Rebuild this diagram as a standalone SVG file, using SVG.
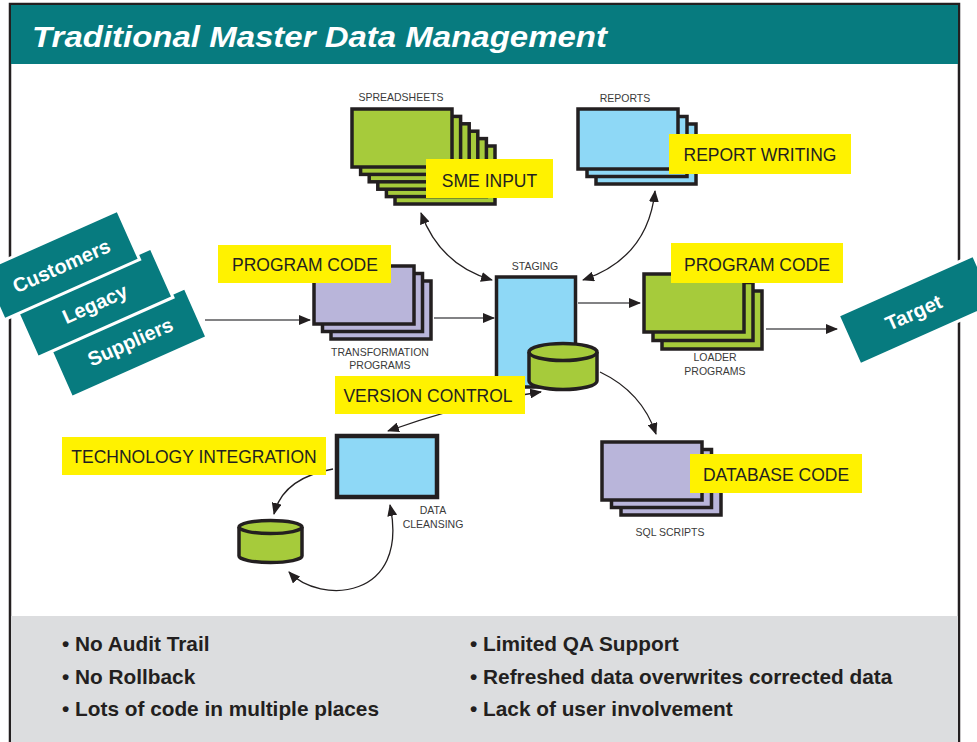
<svg xmlns="http://www.w3.org/2000/svg" width="977" height="742" viewBox="0 0 977 742">
<defs>
<marker id="ah" viewBox="0 0 12 10" refX="11" refY="5" markerWidth="12" markerHeight="10" markerUnits="userSpaceOnUse" orient="auto-start-reverse">
<path d="M0,0 L12,5 L0,10 z" fill="#231f20"/>
</marker>
<style>
text{font-family:"Liberation Sans",Arial,sans-serif;fill:#231f20}
.title{font-weight:bold;font-style:italic;fill:#fff;font-size:30px}
.lbl{font-size:17.5px;text-anchor:middle}
.sm{font-size:10.5px;text-anchor:middle;fill:#3a3a3a}
.bul{font-size:20.8px;font-weight:bold}
.yel{fill:#fff200}
.grn{fill:#a6cb3b;stroke:#231f20;stroke-width:3.5}
.blu{fill:#8ed8f6;stroke:#231f20;stroke-width:3.5}
.pur{fill:#b9b5da;stroke:#231f20;stroke-width:3.5}
.teal{fill:#077b7f;stroke:#fff;stroke-width:3}
.tw{fill:#fff;font-weight:bold;font-size:20px;text-anchor:middle}
.cv{fill:none;stroke:#231f20;stroke-width:1.3}
.st{fill:none;stroke:#58595b;stroke-width:1.6}
</style>
</defs>
<rect x="0" y="0" width="977" height="742" fill="#fff"/>
<!-- frame -->
<rect x="10" y="4" width="949" height="760" fill="#fff" stroke="#231f20" stroke-width="2.5"/>
<rect x="11" y="5" width="947" height="59" fill="#077b7f"/>
<text class="title" x="32" y="47" textLength="575" lengthAdjust="spacingAndGlyphs">Traditional Master Data Management</text>
<rect x="11" y="616" width="947" height="126" fill="#dcdddf"/>

<g id="bullets">
<text class="bul" x="62" y="651">• No Audit Trail</text>
<text class="bul" x="62" y="684">• No Rollback</text>
<text class="bul" x="62" y="716">• Lots of code in multiple places</text>
<text class="bul" x="470" y="651">• Limited QA Support</text>
<text class="bul" x="470" y="684">• Refreshed data overwrites corrected data</text>
<text class="bul" x="470" y="716">• Lack of user involvement</text>
</g>

<!-- connectors -->
<g id="connectors">
<line class="st" x1="205" y1="320" x2="310" y2="320" marker-end="url(#ah)"/>
<line class="st" x1="434" y1="318" x2="494" y2="318" marker-end="url(#ah)"/>
<line class="st" x1="578" y1="303" x2="640" y2="303" marker-end="url(#ah)"/>
<line class="st" x1="766" y1="329" x2="837" y2="329" marker-end="url(#ah)"/>
<path class="cv" d="M421,213 Q440,265 492,280" marker-start="url(#ah)" marker-end="url(#ah)"/>
<path class="cv" d="M655,191 Q648,258 583,280" marker-start="url(#ah)" marker-end="url(#ah)"/>
<path class="cv" d="M600,372 Q642,392 656,434" marker-end="url(#ah)"/>
<path class="cv" d="M541,392 Q470,402 388,431" marker-start="url(#ah)" marker-end="url(#ah)"/>
<path class="cv" d="M333,469 Q283,478 274,514" marker-end="url(#ah)"/>
<path class="cv" d="M289,572 C320,605 410,600 390,505" marker-start="url(#ah)" marker-end="url(#ah)"/>
</g>

<g id="sources">
<g id="suppliers" transform="translate(128.4,342.6) rotate(-24)">
<rect class="teal" x="-74" y="-27" width="148" height="54"/>
<text class="tw" x="2" y="7">Suppliers</text>
</g>
<g id="legacy" transform="translate(94.4,302.8) rotate(-24)">
<rect class="teal" x="-74" y="-27" width="148" height="54"/>
<text class="tw" x="0" y="8">Legacy</text>
</g>
<g id="customers" transform="translate(61,265) rotate(-24)">
<rect class="teal" x="-74" y="-27" width="148" height="54"/>
<text class="tw" x="0" y="8">Customers</text>
</g>
</g>

<g id="spreadsheets">
<text class="sm" x="401" y="101">SPREADSHEETS</text>
<rect class="grn" x="395" y="146" width="100" height="58"/>
<rect class="grn" x="386.4" y="138.6" width="100" height="58"/>
<rect class="grn" x="377.8" y="131.2" width="100" height="58"/>
<rect class="grn" x="369.2" y="123.8" width="100" height="58"/>
<rect class="grn" x="360.6" y="116.4" width="100" height="58"/>
<rect class="grn" x="352" y="109" width="100" height="58"/>
<rect class="yel" x="426" y="159" width="127" height="39"/>
<text class="lbl" x="489.5" y="187">SME INPUT</text>
</g>

<g id="reports">
<text class="sm" x="625" y="102">REPORTS</text>
<rect class="blu" x="596" y="124" width="100" height="60"/>
<rect class="blu" x="587" y="116.5" width="100" height="60"/>
<rect class="blu" x="578" y="109" width="100" height="60"/>
<rect class="yel" x="669" y="134" width="182" height="40"/>
<text class="lbl" x="760" y="161">REPORT WRITING</text>
</g>

<g id="transformation">
<rect class="pur" x="331" y="281" width="100" height="58"/>
<rect class="pur" x="322.5" y="273.5" width="100" height="58"/>
<rect class="pur" x="314" y="266" width="100" height="58"/>
<rect class="yel" x="218" y="245" width="173" height="38"/>
<text class="lbl" x="305" y="271">PROGRAM CODE</text>
<text class="sm" x="380" y="356">TRANSFORMATION</text>
<text class="sm" x="380" y="369">PROGRAMS</text>
</g>

<g id="staging">
<text class="sm" x="535" y="270">STAGING</text>
<rect class="blu" x="496.5" y="277" width="79" height="110"/>
<path class="grn" d="M529,352 V381 A34,8.5 0 0 0 597,381 V352"/>
<ellipse class="grn" cx="563" cy="352" rx="34" ry="8.5"/>
</g>

<g id="loader">
<rect class="grn" x="662" y="291" width="100" height="58"/>
<rect class="grn" x="653" y="282.5" width="100" height="58"/>
<rect class="grn" x="644" y="274" width="100" height="58"/>
<rect class="yel" x="671" y="243" width="172" height="40"/>
<text class="lbl" x="757" y="271">PROGRAM CODE</text>
<text class="sm" x="715" y="361">LOADER</text>
<text class="sm" x="715" y="375">PROGRAMS</text>
</g>

<g id="target" transform="translate(916.8,310) rotate(-24)">
<rect class="teal" x="-74" y="-27" width="148" height="54" stroke="none"/>
<text class="tw" x="-4" y="8">Target</text>
</g>

<g id="version-control">
<rect class="yel" x="335" y="376" width="190" height="38"/>
<text class="lbl" x="428" y="402">VERSION CONTROL</text>
</g>

<g id="data-cleansing">
<rect x="337" y="436" width="100" height="61" fill="#8ed8f6" stroke="#231f20" stroke-width="4.5"/>
<text class="sm" x="433" y="514">DATA</text>
<text class="sm" x="433" y="528">CLEANSING</text>
</g>

<g id="technology-integration">
<rect class="yel" x="62" y="437" width="264" height="38"/>
<text class="lbl" x="194" y="463">TECHNOLOGY INTEGRATION</text>
</g>

<g id="cleansing-db">
<path class="grn" d="M239,527 V556 A31.5,6.5 0 0 0 302,556 V527"/>
<ellipse class="grn" cx="270.5" cy="527" rx="31.5" ry="6.5"/>
</g>

<g id="sql-scripts">
<rect class="pur" x="621" y="457" width="100" height="58"/>
<rect class="pur" x="611.5" y="449.5" width="100" height="58"/>
<rect class="pur" x="602" y="442" width="100" height="58"/>
<rect class="yel" x="690" y="454" width="172" height="39"/>
<text class="lbl" x="776" y="481">DATABASE CODE</text>
<text class="sm" x="670" y="536">SQL SCRIPTS</text>
</g>
</svg>
